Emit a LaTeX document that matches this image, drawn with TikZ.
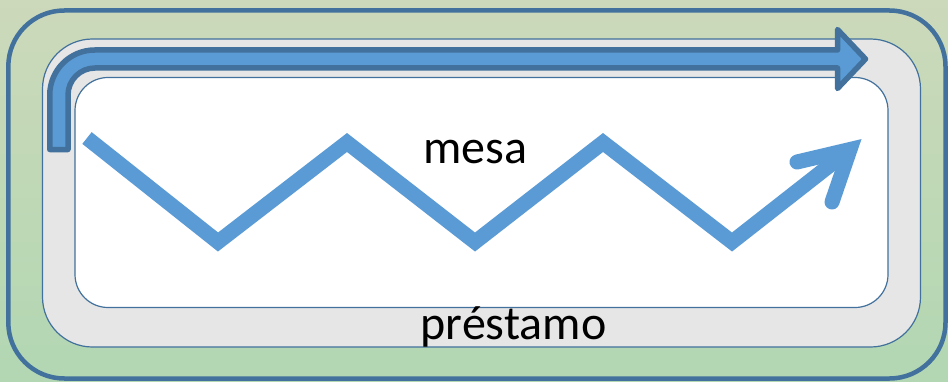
\documentclass[tikz,border=0pt]{standalone}
\definecolor{bgtop}{RGB}{204, 217, 186}
\definecolor{bgbot}{RGB}{178, 215, 178}
\definecolor{framblue}{RGB}{65, 113, 156}
\definecolor{zigblue}{RGB}{91, 155, 213}
\definecolor{panelgray}{RGB}{230, 230, 230}
\usepackage{fontspec}
\setmainfont{Carlito}
\usepackage{tikz}
\usetikzlibrary{positioning}

\begin{document}
\begin{tikzpicture}[x=1pt, y=1pt,
    frame/.style={draw=framblue, line width=4.5pt, rounded corners=56pt},
    panel/.style={draw=framblue, line width=1.2pt},
    bent/.style={draw=framblue, fill=zigblue, line width=5.5pt, line join=round},
    zig/.style={draw=zigblue, line width=15pt, line join=miter},
    label/.style={inner sep=0pt, anchor=base, font=\fontsize{48}{58}\selectfont}]
  \useasboundingbox (0,0) rectangle (948,381);
  \fill[top color=bgtop, bottom color=bgbot] (0,0) rectangle (948,381);
  \draw[frame] (8.3,2.5) rectangle (945.5,370.5);
  % loan band and table
  \draw[panel, fill=panelgray, rounded corners=50pt] (42.5,34) rectangle (920.5,342);
  \draw[panel, fill=white, rounded corners=33pt] (75,73.5) rectangle (888,303.5);
  % bent arrow along the top
  \draw[bent] (49.75,231.5) -- (49.75,286) arc[start angle=180, end angle=90, radius=45]
    -- (837.5,331) -- (837.5,351.5) -- (865.5,322) -- (837.5,292.5) -- (837.5,313)
    -- (95,313) arc[start angle=90, end angle=180, radius=27] -- (68,231.5) -- cycle;
  % zigzag
  \draw[zig] (87,243) -- (218,139) -- (347,238.5) -- (475,139) -- (603,238.5)
    -- (732,139) -- (850,231.5);
  \draw[zig, line cap=round] (797,219) -- (850,231.5) -- (832,179);
  \node[label] (mesa) at (475,218) {mesa};
  \node[label] (prestamo) at (513.5,41.7) {préstamo};
\end{tikzpicture}
\end{document}
